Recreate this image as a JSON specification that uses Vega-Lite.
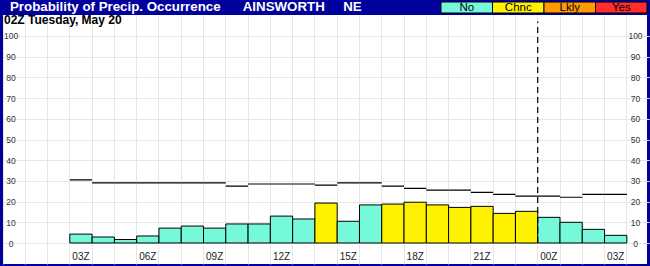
{
  "$schema": "https://vega.github.io/schema/vega-lite/v6.json",
  "width": 644,
  "height": 249,
  "autosize": {"type": "none"},
  "padding": {"left": 3, "top": 15, "right": 3, "bottom": 2},
  "background": "#00009C",
  "config": {
    "font": "Liberation Sans",
    "view": {"fill": "white", "stroke": null},
    "axis": {"domain": false, "ticks": false, "tickSize": 0, "labelOverlap": false, "labelFlush": false, "title": null}
  },
  "title": {
    "text": "Probability of Precip. Occurrence\u00a0\u00a0\u00a0\u00a0\u00a0\u00a0AINSWORTH\u00a0\u00a0\u00a0\u00a0\u00a0NE",
    "orient": "top",
    "anchor": "start",
    "frame": "group",
    "color": "white",
    "font": "Liberation Sans",
    "fontSize": 13.3,
    "fontWeight": "bold",
    "offset": -12,
    "dx": 7
  },
  "resolve": {"scale": {"x": "independent", "y": "independent", "fill": "independent"}},
  "layer": [
    {
      "data": {
        "values": [
          {"slot": "20 03Z", "pop": 4.3, "cat": "No", "line": 30.5},
          {"slot": "20 04Z", "pop": 2.9, "cat": "No", "line": 29},
          {"slot": "20 05Z", "pop": 1.7, "cat": "No", "line": 29},
          {"slot": "20 06Z", "pop": 3.4, "cat": "No", "line": 29},
          {"slot": "20 07Z", "pop": 7.2, "cat": "No", "line": 29},
          {"slot": "20 08Z", "pop": 8.2, "cat": "No", "line": 29},
          {"slot": "20 09Z", "pop": 7.2, "cat": "No", "line": 29},
          {"slot": "20 10Z", "pop": 9.2, "cat": "No", "line": 27.5},
          {"slot": "20 11Z", "pop": 9.2, "cat": "No", "line": 28.5},
          {"slot": "20 12Z", "pop": 13, "cat": "No", "line": 28.5},
          {"slot": "20 13Z", "pop": 11.6, "cat": "No", "line": 28.5},
          {"slot": "20 14Z", "pop": 19.3, "cat": "Chnc", "line": 28},
          {"slot": "20 15Z", "pop": 10.5, "cat": "No", "line": 29},
          {"slot": "20 16Z", "pop": 18.4, "cat": "No", "line": 29},
          {"slot": "20 17Z", "pop": 18.8, "cat": "Chnc", "line": 27.5},
          {"slot": "20 18Z", "pop": 19.7, "cat": "Chnc", "line": 26.4},
          {"slot": "20 19Z", "pop": 18.4, "cat": "Chnc", "line": 25.5},
          {"slot": "20 20Z", "pop": 17.2, "cat": "Chnc", "line": 25.5},
          {"slot": "20 21Z", "pop": 17.7, "cat": "Chnc", "line": 24.5},
          {"slot": "20 22Z", "pop": 14.3, "cat": "Chnc", "line": 23.5},
          {"slot": "20 23Z", "pop": 15.3, "cat": "Chnc", "line": 22.6},
          {"slot": "21 00Z", "pop": 12.4, "cat": "No", "line": 22.6},
          {"slot": "21 01Z", "pop": 10, "cat": "No", "line": 22.1},
          {"slot": "21 02Z", "pop": 6.6, "cat": "No", "line": 23.5},
          {"slot": "21 03Z", "pop": 3.7, "cat": "No", "line": 23.5}
        ]
      },
      "resolve": {"axis": {"x": "independent", "y": "independent"}},
      "layer": [
        {
          "mark": {"type": "bar", "stroke": "black", "strokeWidth": 1},
          "encoding": {
            "x": {
              "field": "slot",
              "type": "ordinal",
              "sort": null,
              "scale": {
                "domain": ["20 00Z", "20 01Z", "20 02Z", "20 03Z", "20 04Z", "20 05Z", "20 06Z", "20 07Z", "20 08Z", "20 09Z", "20 10Z", "20 11Z", "20 12Z", "20 13Z", "20 14Z", "20 15Z", "20 16Z", "20 17Z", "20 18Z", "20 19Z", "20 20Z", "20 21Z", "20 22Z", "20 23Z", "21 00Z", "21 01Z", "21 02Z", "21 03Z", "21 04Z"],
                "range": [0, 646.12],
                "paddingInner": 0,
                "paddingOuter": 0
              },
              "axis": {
                "orient": "top",
                "grid": true,
                "gridColor": "#E6E6E6",
                "gridWidth": 1,
                "labels": false,
                "bandPosition": 0
              }
            },
            "y": {
              "field": "pop",
              "type": "quantitative",
              "scale": {"domain": [-10.14, 110.14], "nice": false, "zero": false},
              "axis": {
                "orient": "left",
                "values": [0, 10, 20, 30, 40, 50, 60, 70, 80, 90, 100],
                "grid": true,
                "gridColor": "#E6E6E6",
                "gridWidth": 1,
                "labelAlign": "center",
                "labelBaseline": "middle",
                "labelPadding": -7.6,
                "labelFontSize": 8.5,
                "labelColor": "#333333"
              }
            },
            "y2": {"datum": 0},
            "fill": {
              "field": "cat",
              "type": "nominal",
              "scale": {"domain": ["No", "Chnc", "Lkly", "Yes"], "range": ["#76F9DA", "#FFF200", "#FF9A00", "#FF2D2D"]},
              "legend": null
            }
          }
        },
        {
          "mark": {"type": "bar", "fillOpacity": 0, "stroke": "black", "strokeWidth": 1.2},
          "encoding": {
            "x": {
              "field": "slot",
              "type": "ordinal",
              "sort": null,
              "axis": {
                "orient": "bottom",
                "grid": false,
                "values": ["20 03Z", "20 06Z", "20 09Z", "20 12Z", "20 15Z", "20 18Z", "20 21Z", "21 00Z", "21 03Z"],
                "labelExpr": "slice(datum.value, 3)",
                "labelAngle": 0,
                "labelAlign": "center",
                "labelBaseline": "alphabetic",
                "labelPadding": -4.5,
                "labelFontSize": 10,
                "labelColor": "#222222"
              }
            },
            "y": {
              "field": "line",
              "type": "quantitative",
              "axis": {
                "orient": "right",
                "values": [0, 10, 20, 30, 40, 50, 60, 70, 80, 90, 100],
                "grid": false,
                "labelAlign": "center",
                "labelBaseline": "middle",
                "labelPadding": -12,
                "labelFontSize": 8.5,
                "labelColor": "#333333"
              }
            },
            "y2": {"field": "line"}
          }
        },
        {
          "data": {"values": [{"slot": "21 00Z"}]},
          "mark": {"type": "rule", "color": "black", "strokeWidth": 1.2, "strokeDash": [6, 4]},
          "encoding": {
            "x": {"field": "slot", "type": "ordinal", "sort": null, "bandPosition": 0, "axis": null},
            "y": {"datum": 0, "type": "quantitative", "axis": null},
            "y2": {"datum": 107}
          }
        },
        {
          "data": {"values": [{"slot": "20 00Z", "label": "02Z Tuesday, May 20"}]},
          "mark": {"type": "text", "align": "left", "baseline": "alphabetic", "fontSize": 12, "fontWeight": "bold", "color": "black", "dx": 1},
          "encoding": {
            "x": {"field": "slot", "type": "ordinal", "sort": null, "bandPosition": 0, "axis": null},
            "y": {"datum": 105.65, "type": "quantitative", "axis": null},
            "text": {"field": "label", "type": "nominal"}
          }
        }
      ]
    },
    {
      "data": {"values": [{"cat": "No"}, {"cat": "Chnc"}, {"cat": "Lkly"}, {"cat": "Yes"}]},
      "encoding": {
        "x": {
          "field": "cat",
          "type": "nominal",
          "sort": null,
          "scale": {"domain": ["No", "Chnc", "Lkly", "Yes"], "range": [438, 644], "paddingInner": 0, "paddingOuter": 0},
          "axis": null
        },
        "y": {
          "datum": "legend",
          "type": "nominal",
          "scale": {"domain": ["legend"], "range": [-13, -2], "paddingInner": 0, "paddingOuter": 0},
          "axis": null
        }
      },
      "layer": [
        {
          "mark": {"type": "rect", "stroke": "black", "strokeWidth": 1},
          "encoding": {
            "fill": {
              "field": "cat",
              "type": "nominal",
              "scale": {"domain": ["No", "Chnc", "Lkly", "Yes"], "range": ["#76F9DA", "#FFF200", "#FF9A00", "#FF2D2D"]},
              "legend": null
            }
          }
        },
        {
          "mark": {"type": "text", "fontSize": 11.5, "color": "black", "baseline": "middle", "align": "center"},
          "encoding": {"text": {"field": "cat", "type": "nominal"}}
        }
      ]
    }
  ]
}
